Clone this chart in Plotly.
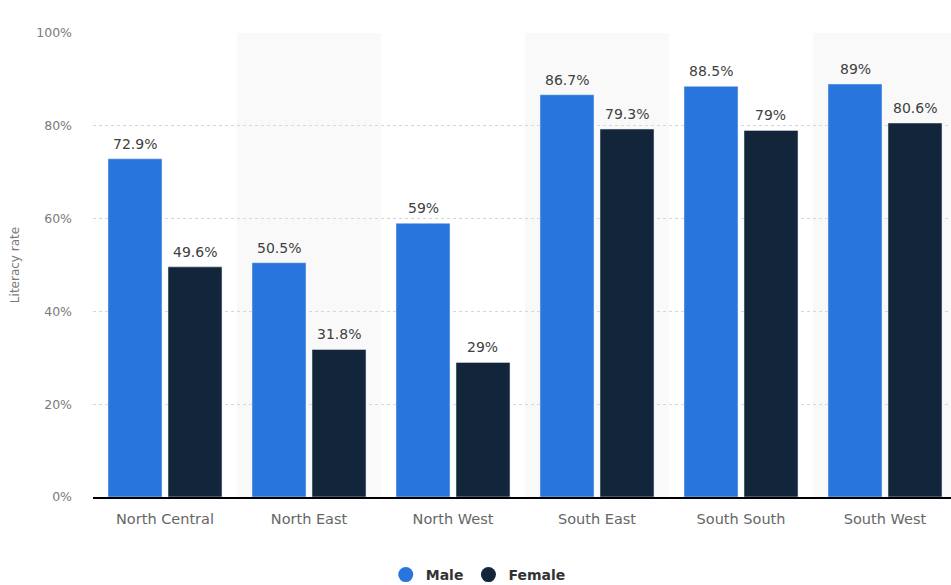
import plotly.graph_objects as go

regions = ["North Central", "North East", "North West", "South East", "South South", "South West"]
male = [72.9, 50.5, 59, 86.7, 88.5, 89]
female = [49.6, 31.8, 29, 79.3, 79, 80.6]
y_ticks = [0, 20, 40, 60, 80, 100]
y_tick_labels = ["0%", "20%", "40%", "60%", "80%", "100%"]

MALE_COLOR = "#2876dd"
FEMALE_COLOR = "#13253a"
BAR_GAP = 0.1667
GROUP_GAP = 0.1

W, H = 951, 585
L, R, T, B = 93, 0, 33, 88
cat_px = 144
x_range = [-0.5, -0.5 + (W - L - R) / cat_px]

fig = go.Figure()
fig.add_trace(go.Bar(x=regions, y=male, name="Male", marker_color=MALE_COLOR,
                     showlegend=False, hoverinfo="x+y"))
fig.add_trace(go.Bar(x=regions, y=female, name="Female", marker_color=FEMALE_COLOR,
                     showlegend=False, hoverinfo="x+y"))

# circular legend entries
for name, color in [("Male", MALE_COLOR), ("Female", FEMALE_COLOR)]:
    fig.add_trace(go.Scatter(x=[None], y=[None], mode="markers", name=name,
                             marker=dict(color=color, size=15, symbol="circle")))

# alternating column shading
shapes = []
for i in range(len(regions)):
    if i % 2 == 1:
        shapes.append(dict(type="rect", xref="x", yref="paper", x0=i - 0.5, x1=i + 0.5,
                           y0=0, y1=1, fillcolor="#f9f9f9", line_width=0, layer="below"))

# value labels above bars
slot_w = cat_px * (1 - BAR_GAP) / 2
offset = slot_w / 2
annotations = []
for i, r in enumerate(regions):
    for vals, sh in [(male, -offset), (female, offset)]:
        v = vals[i]
        annotations.append(dict(x=r, y=v, xref="x", yref="y", text=f"{v:g}%",
                                showarrow=False, yanchor="bottom", xshift=sh, yshift=5,
                                font=dict(family="DejaVu Sans", size=14, color="#404040")))

fig.update_layout(
    width=W, height=H,
    margin=dict(l=L, r=R, t=T, b=B, autoexpand=False),
    paper_bgcolor="white", plot_bgcolor="white",
    barmode="group", bargap=BAR_GAP, bargroupgap=GROUP_GAP,
    shapes=shapes, annotations=annotations,
    showlegend=True,
    legend=dict(orientation="h", x=0.449, xanchor="center",
                yref="container", y=10 / H, yanchor="middle",
                font=dict(family="DejaVu Sans", size=14, color="#333333", weight="bold"),
                itemwidth=30, traceorder="normal"),
    font=dict(family="DejaVu Sans"),
)
fig.update_xaxes(range=x_range, showgrid=False, showline=True, linecolor="#000000",
                 linewidth=1.5, ticks="", tickfont=dict(size=14.5, color="#666666"),
                 ticklabelstandoff=8, fixedrange=True)
fig.update_yaxes(range=[0, 100], tickvals=y_ticks, ticktext=y_tick_labels,
                 showgrid=True, gridcolor="#d6d6d6", griddash="dot", gridwidth=1,
                 zeroline=False, tickfont=dict(size=12.5, color="#7a7a7a"),
                 ticklabelstandoff=20,
                 title=dict(text="Literacy rate", font=dict(size=12, color="#7a7a7a"), standoff=14),
                 fixedrange=True)

fig.write_html("out.html")
